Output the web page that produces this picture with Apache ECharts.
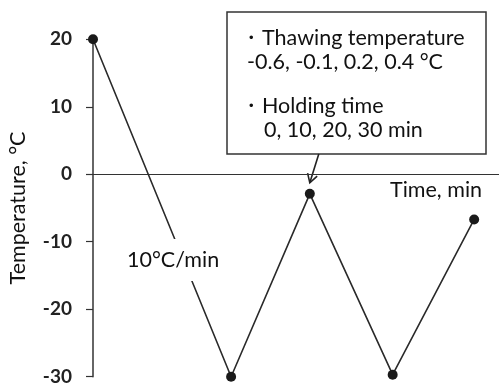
<!DOCTYPE html>
<html>
<head>
<meta charset="utf-8">
<script src="https://cdn.jsdelivr.net/npm/echarts@6/dist/echarts.min.js"></script>
<style>
  html, body { margin: 0; padding: 0; background: #fff; }
  #chart { width: 499px; height: 387px; }
</style>
</head>
<body>
<div id="chart"></div>
<script>
// Temperature program: cool at 10 °C/min, thaw, hold, cool again
const timeMin = [0, 5, 7.85, 10.85, 13.8];
const tempC = [20, -30, -2.9, -29.7, -6.7];
const yTicks = [-30, -20, -10, 0, 10, 20];
const rateLabel = '10\u00B0C/min';
const rateAt = [2.9, -12.7];
const noteLines = [
  '\u30FBThawing temperature',
  '-0.6, -0.1, 0.2, 0.4 \u00B0C',
  '\u30FBHolding time',
  '0, 10, 20, 30 min'
];
const peakIndex = 2;

const FONT = 'Lato';
const INK = '#111';
const TXT = 21.5;

const chart = echarts.init(document.getElementById('chart'), null, { renderer: 'canvas' });

const option = {
  backgroundColor: '#fff',
  animation: false,
  grid: { left: 93, right: 0, top: 39.3, bottom: 10.3, containLabel: false, outerBoundsMode: 'none' },
  xAxis: {
    type: 'value',
    min: 0,
    max: 14.7,
    name: 'Time, min',
    nameLocation: 'end',
    nameGap: -109,
    nameTextStyle: { fontFamily: FONT, fontSize: TXT, color: INK, verticalAlign: 'top', padding: [5, 0, 0, 0] },
    axisLine: { show: true, onZero: true, lineStyle: { color: '#333', width: 1 } },
    axisTick: { show: false },
    axisLabel: { show: false },
    splitLine: { show: false }
  },
  yAxis: {
    type: 'value',
    min: yTicks[0],
    max: yTicks[yTicks.length - 1],
    interval: 10,
    name: 'Temperature, \u00B0C',
    nameLocation: 'middle',
    nameGap: 64,
    nameTextStyle: { fontFamily: FONT, fontSize: TXT, color: INK },
    axisLine: { show: true, lineStyle: { color: '#333', width: 1.5 } },
    axisTick: { show: true, inside: false, length: 7, lineStyle: { color: '#333', width: 1.2 } },
    axisLabel: { fontFamily: FONT, fontSize: 19, fontWeight: 'bold', color: '#222', margin: 21 },
    splitLine: { show: false }
  },
  series: [{
    type: 'line',
    data: timeMin.map((t, i) => [t, tempC[i]]),
    symbol: 'circle',
    symbolSize: 10,
    itemStyle: { color: '#1a1a1a' },
    lineStyle: { color: '#2a2a2a', width: 1.6 },
    markPoint: {
      symbol: 'rect',
      symbolSize: 0,
      silent: true,
      data: [{ coord: rateAt }],
      label: {
        show: true,
        position: 'inside',
        formatter: rateLabel,
        fontFamily: FONT,
        fontSize: TXT,
        color: INK,
        backgroundColor: '#fff',
        padding: [10, 3]
      }
    }
  }]
};

chart.setOption(option);

// Annotation box and the arrow pointing at the thawing peak
const peak = chart.convertToPixel({ gridIndex: 0 }, [timeMin[peakIndex], tempC[peakIndex]]);
const tip = [peak[0], peak[1] - 11];
const tail = [peak[0] + 9, 154];
const ang = Math.atan2(tip[1] - tail[1], tip[0] - tail[0]);
const head = 10, spread = Math.PI / 6;
const h1 = [tip[0] - head * Math.cos(ang - spread), tip[1] - head * Math.sin(ang - spread)];
const h2 = [tip[0] - head * Math.cos(ang + spread), tip[1] - head * Math.sin(ang + spread)];

const textStyle = (txt, x, y) => ({
  type: 'text',
  x: x, y: y,
  style: { text: txt, fontFamily: FONT, fontSize: TXT, fill: INK, verticalAlign: 'middle', align: 'left' }
});

chart.setOption({
  graphic: [
    {
      type: 'rect',
      shape: { x: 227, y: 12, width: 259, height: 142 },
      style: { fill: '#fff', stroke: '#333', lineWidth: 1.5 }
    },
    textStyle(noteLines[0], 240, 38),
    textStyle(noteLines[1], 247, 62),
    textStyle(noteLines[2], 240, 106),
    textStyle(noteLines[3], 264, 130),
    {
      type: 'line',
      shape: { x1: tail[0], y1: tail[1], x2: tip[0], y2: tip[1] },
      style: { stroke: '#222', lineWidth: 1.6 }
    },
    {
      type: 'polyline',
      shape: { points: [h1, tip, h2] },
      style: { stroke: '#222', lineWidth: 1.6, fill: null }
    }
  ]
});
</script>
</body>
</html>
